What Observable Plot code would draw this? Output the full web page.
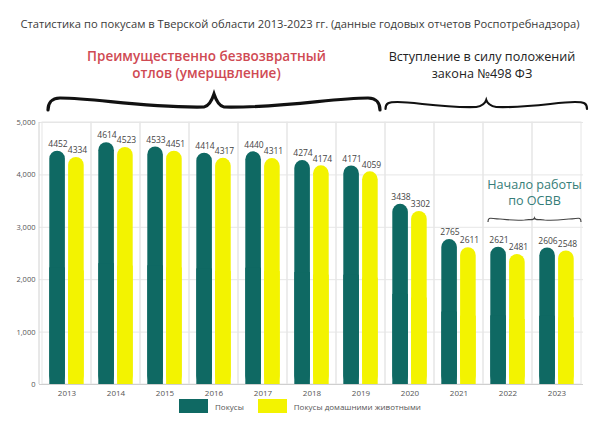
<!DOCTYPE html>
<html>
<head>
<meta charset="utf-8">
<script src="https://cdn.jsdelivr.net/npm/d3@7"></script>
<script src="https://cdn.jsdelivr.net/npm/@observablehq/plot@0.6"></script>
<style>
  html, body { margin: 0; padding: 0; background: #fff; }
  #wrap { position: relative; width: 600px; height: 424px; overflow: hidden; font-family: "Open Sans", sans-serif; }
  #title { position: absolute; top: 16px; left: 0; width: 600px; text-align: center; font-size: 11.2px; color: #3a3a3a; white-space: nowrap; }
  #chart { position: absolute; top: 0; left: 0; }
  #legend { position: absolute; top: 399px; left: 0; width: 600px; display: flex; justify-content: center; align-items: center; font-size: 8px; color: #555; }
  #legend .sw { width: 29px; height: 14px; margin-right: 7px; }
  #legend .item { display: flex; align-items: center; margin: 0 7px; }
</style>
</head>
<body>
<div id="wrap">
  <div id="title"></div>
  <div id="chart"></div>
  <div id="legend"></div>
</div>
<script>
const titleText = "Статистика по покусам в Тверской области 2013-2023 гг. (данные годовых отчетов Роспотребнадзора)";
const years = ["2013","2014","2015","2016","2017","2018","2019","2020","2021","2022","2023"];
const bites = [4452, 4614, 4533, 4414, 4440, 4274, 4171, 3438, 2765, 2621, 2606];
const petBites = [4334, 4523, 4451, 4317, 4311, 4174, 4059, 3302, 2611, 2481, 2548];
const seriesNames = ["Покусы", "Покусы домашними животными"];
const seriesColors = ["#0f6963", "#f3f300"];
const yTicks = [0, 1000, 2000, 3000, 4000, 5000];

// annotation spans (braces) over year ranges
const topSpans = [
  {from: "2013", to: "2019", lines: ["Преимущественно безвозвратный", "отлов (умерщвление)"], color: "#cf4a53", weight: 600, size: 13.5},
  {from: "2020", to: "2023", lines: ["Вступление в силу положений", "закона №498 ФЗ"], color: "#222222", weight: 400, size: 12.6}
];
const innerSpan = {from: "2022", to: "2023", level: 3130, lines: ["Начало работы", "по ОСВВ"], color: "#367d78"};

document.getElementById("title").textContent = titleText;

const rowsA = years.map((year, i) => ({year, value: bites[i]}));
const rowsB = years.map((year, i) => ({year, value: petBites[i]}));

const teal = seriesColors[0], yellow = seriesColors[1];
const inA = {insetLeft: 7.3, insetRight: 26.1};
const inB = {insetLeft: 26.1, insetRight: 7.3};

function bracePath(x1, x2, yE, yC, yB, yT) {
  const xm = (x1 + x2) / 2;
  const h = xm - x1;
  const L = `M${x1},${yE} C${x1},${yE - 6} ${x1 + 3},${yC} ${x1 + 12},${yC} C${x1 + h * 0.3},${yC} ${xm - h * 0.45},${yB} ${xm - 10},${yB - 1} C${xm - 4},${yB - 2} ${xm - 1},${yT + 3} ${xm},${yT}`;
  const R = ` C${xm + 1},${yT + 3} ${xm + 4},${yB - 2} ${xm + 10},${yB - 1} C${xm + h * 0.45},${yB} ${x2 - h * 0.3},${yC} ${x2 - 12},${yC} C${x2 - 3},${yC} ${x2},${yE - 6} ${x2},${yE}`;
  return L + R;
}

function multiline(g, lines, x, y, lh, attrs) {
  const t = g.append("text").attr("x", x).attr("y", y).attr("text-anchor", "middle")
    .attr("font-family", "Open Sans, sans-serif");
  Object.entries(attrs).forEach(([k, v]) => t.attr(k, v));
  lines.forEach((s, j) => t.append("tspan").attr("x", x).attr("dy", j === 0 ? 0 : lh).text(s));
  return t;
}

function annotations(index, scales, values, dims) {
  const x = scales.x, y = scales.y;
  const bw = x(years[1]) - x(years[0]);
  const g = d3.create("svg:g");
  const mt = dims.marginTop;
  g.append("line").attr("x1", dims.marginLeft).attr("x2", dims.marginLeft)
    .attr("y1", y(d3.max(yTicks))).attr("y2", y(0)).attr("stroke", "#d0d0d0");
  const geo = [
    {x1: x(topSpans[0].from) + 6, x2: x(topSpans[0].to) + bw - 5, yE: mt - 12, yC: mt - 24, yB: mt - 14, yT: mt - 28, sw: 3.2, dx: -7},
    {x1: x(topSpans[1].from) + 0.5, x2: x(topSpans[1].to) + bw + 6, yE: mt - 13, yC: mt - 20, yB: mt - 14, yT: mt - 22, sw: 2.2, dx: -1}
  ];
  topSpans.forEach((s, i) => {
    const p = geo[i];
    g.append("path").attr("d", bracePath(p.x1, p.x2, p.yE, p.yC, p.yB, p.yT))
      .attr("fill", "none").attr("stroke", "#111").attr("stroke-width", p.sw).attr("stroke-linecap", "round");
    const cx = (x(s.from) + x(s.to) + bw) / 2 + p.dx;
    multiline(g, s.lines, cx, mt - 61, 16.5, {"font-size": s.size, "font-weight": s.weight, fill: s.color});
  });
  const ix1 = x(innerSpan.from) + 5, ix2 = x(innerSpan.to) + bw;
  const iy = y(innerSpan.level);
  g.append("path").attr("d", bracePath(ix1, ix2, iy + 2, iy - 1, iy + 1, iy - 2))
    .attr("fill", "none").attr("stroke", "#444").attr("stroke-width", 1.2);
  multiline(g, innerSpan.lines, (ix1 + ix2) / 2, iy - 31, 16, {"font-size": 12.6, fill: innerSpan.color});
  return g.node();
}

const plot = Plot.plot({
  width: 600,
  height: 400,
  marginTop: 122,
  marginBottom: 16,
  marginLeft: 39,
  marginRight: 17,
  style: {fontFamily: "Open Sans, sans-serif", background: "transparent"},
  x: {domain: years, padding: 0, tickSize: 0, tickPadding: 6, label: null},
  y: {domain: [0, d3.max(yTicks)], ticks: yTicks, tickFormat: d3.format(","), tickSize: 0, tickPadding: 4, label: null, grid: false},
  marks: [
    Plot.ruleY(yTicks, {stroke: "#e6e6e6"}),
    Plot.barY(years, {x: d => d, y1: 0, y2: d3.max(yTicks), fill: "none", stroke: "#e6e6e6"}),
    Plot.ruleY([0], {stroke: "#cfcfcf"}),
    Plot.barY(rowsA, {x: "year", y: "value", fill: teal, rx: 8, ...inA}),
    Plot.barY(rowsA, {x: "year", y1: 0, y2: d => d.value / 2, fill: teal, ...inA}),
    Plot.barY(rowsB, {x: "year", y: "value", fill: yellow, rx: 8, ...inB}),
    Plot.barY(rowsB, {x: "year", y1: 0, y2: d => d.value / 2, fill: yellow, ...inB}),
    Plot.text(rowsA, {x: "year", y: "value", text: d => String(d.value), dx: -9, dy: -7, fontSize: 8.5, fill: "#444"}),
    Plot.text(rowsB, {x: "year", y: "value", text: d => String(d.value), dx: 10.5, dy: -7, fontSize: 8.5, fill: "#444"}),
    annotations
  ]
});
plot.querySelectorAll("[aria-label='x-axis tick label'] text, [aria-label='y-axis tick label'] text").forEach(t => t.setAttribute("fill", "#555"));
const xl = plot.querySelector("[aria-label='x-axis tick label']"); if (xl) xl.setAttribute("font-size", "8");
const yl = plot.querySelector("[aria-label='y-axis tick label']"); if (yl) yl.setAttribute("font-size", "7.5");
document.getElementById("chart").appendChild(plot);

const legend = document.getElementById("legend");
seriesNames.forEach((n, i) => {
  const item = document.createElement("div"); item.className = "item";
  const sw = document.createElement("div"); sw.className = "sw"; sw.style.background = seriesColors[i];
  const lab = document.createElement("span"); lab.textContent = n;
  item.appendChild(sw); item.appendChild(lab); legend.appendChild(item);
});
</script>
</body>
</html>
